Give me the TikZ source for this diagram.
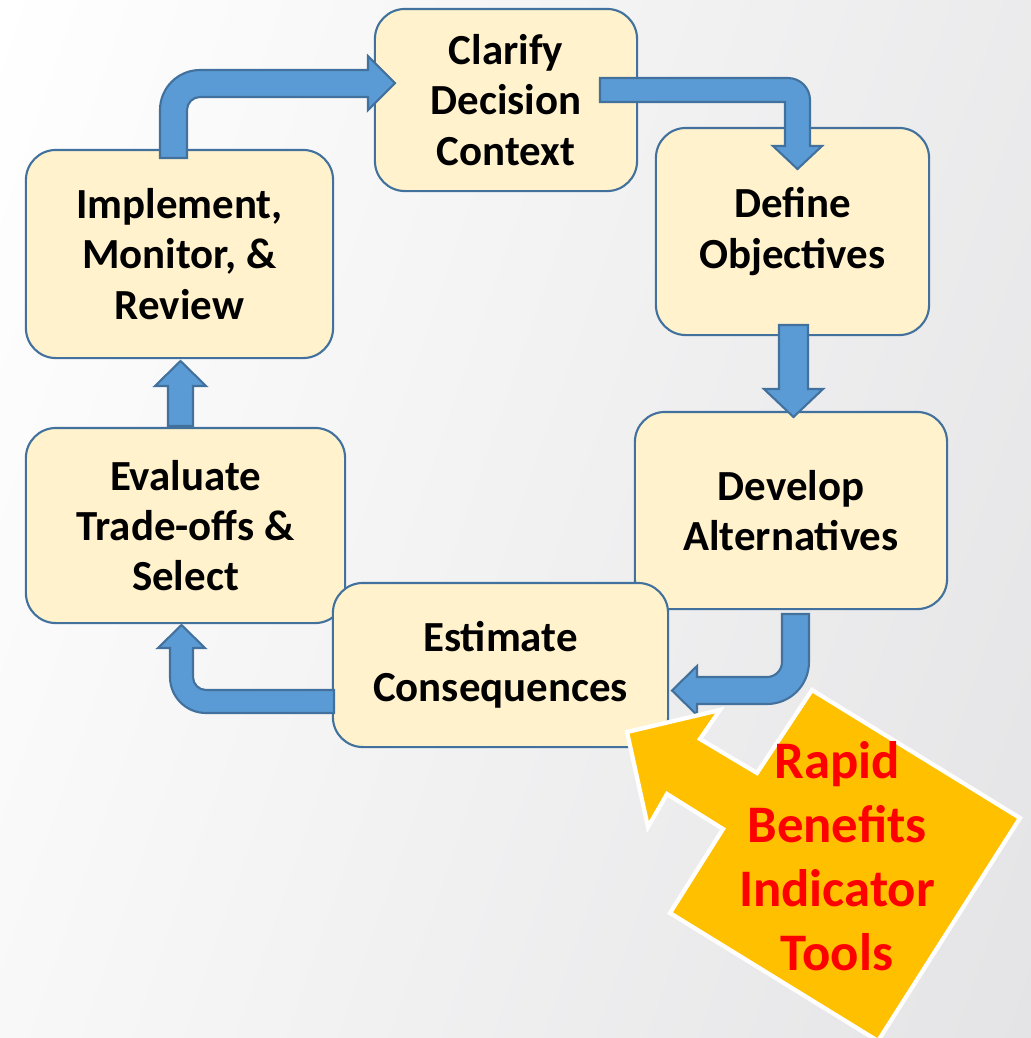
\documentclass[tikz,border=0pt]{standalone}
\usepackage{fontspec}
\setmainfont{Carlito}
\definecolor{boxfill}{HTML}{FFF2CC}
\definecolor{edgeblue}{HTML}{41719C}
\definecolor{arrowfill}{HTML}{5B9BD5}
\definecolor{calloutfill}{HTML}{FFC000}
\definecolor{bgouter}{HTML}{E4E4E6}
\definecolor{calloutred}{HTML}{FF0000}
\begin{document}
\begin{tikzpicture}[x=0.01cm, y=-0.01cm,
  box/.style={draw=edgeblue, fill=boxfill, line width=0.6pt, rounded corners=0.3cm,
    inner sep=0pt, align=center, font=\fontsize{12.2}{14.3}\selectfont\bfseries},
  blockarrow/.style={draw=edgeblue, fill=arrowfill, line width=0.6pt, line join=miter},
  calloutshape/.style={draw=white, fill=calloutfill, line width=1.2pt, line join=miter},
  callouttext/.style={inner sep=0pt, align=center, text=calloutred,
    font=\fontsize{15}{18.2}\selectfont\bfseries}
  ]
\useasboundingbox (0,0) rectangle (1031,1038);
\begin{scope}
\clip (0,0) rectangle (1031,1038);
% background
\begin{scope}[transform canvas={rotate around={-19:(0,0)}}]
\shade[left color=white, right color=bgouter] (0,-800) rectangle (1313,1800);
\end{scope}

% boxes
\node[box, minimum width=2.62cm, minimum height=1.82cm] (clarify) at (506,100) {Clarify\\Decision\\Context};
\node[box, minimum width=2.73cm, minimum height=2.07cm] (define) at (792.5,231.5) {Define\\Objectives};
\node[box, minimum width=3.07cm, minimum height=2.08cm] (implement) at (179.5,254) {Implement,\\Monitor, \&\\Review};
\node[box, minimum width=3.19cm, minimum height=1.95cm] (evaluate) at (185.5,525.5) {Evaluate\\Trade-offs \&\\Select};
\node[box, minimum width=3.12cm, minimum height=1.97cm] (develop) at (791,510.5) {Develop\\Alternatives};
\node[box, minimum width=3.35cm, minimum height=1.64cm] (estimate) at (500.5,665) {Estimate\\Consequences};

% block arrows
% implement -> clarify
\draw[blockarrow] (160,158) -- (160,110) arc (180:270:40) -- (368,70) -- (368,56) -- (395,83)
  -- (368,110) -- (368,97) -- (200,97) arc (270:180:13) -- (187,158) -- cycle;
% clarify -> define
\draw[blockarrow] (600,78) -- (788,78) arc (270:360:22) -- (810,146) -- (822,146) -- (797.5,169)
  -- (773,146) -- (785,146) -- (785,102) -- (600,102) -- cycle;
% define -> develop
\draw[blockarrow] (779,325) -- (808,325) -- (808,389) -- (823,389) -- (793.5,417) -- (764,389)
  -- (779,389) -- cycle;
% develop -> estimate
\draw[blockarrow] (782,614) -- (809,614) -- (809,662) arc (0:90:42) -- (697,704) -- (697,715)
  -- (672,690.5) -- (697,666) -- (697,677) -- (767,677) arc (90:0:15) -- cycle;
% estimate -> evaluate
\draw[blockarrow] (334,690) -- (334,713) -- (206,713) arc (90:180:36) -- (170,648) -- (158,648)
  -- (181.5,625) -- (205,648) -- (193,648) -- (193,677) arc (180:90:13) -- cycle;
% evaluate -> implement
\draw[blockarrow] (168,426) -- (168,386) -- (155,386) -- (180.5,361) -- (206,386) -- (193,386)
  -- (193,426) -- cycle;

% callout arrow
\draw[calloutshape] (627,732) -- (720,710) -- (700,739) -- (757,773) -- (812,690) -- (1020,818)
  -- (878,1041) -- (670,913) -- (723,829) -- (667,794) -- (648,827) -- cycle;
\node[callouttext] (rbit) at (837,856) {Rapid\\Benefits\\Indicator\\Tools};
\end{scope}
\end{tikzpicture}
\end{document}
